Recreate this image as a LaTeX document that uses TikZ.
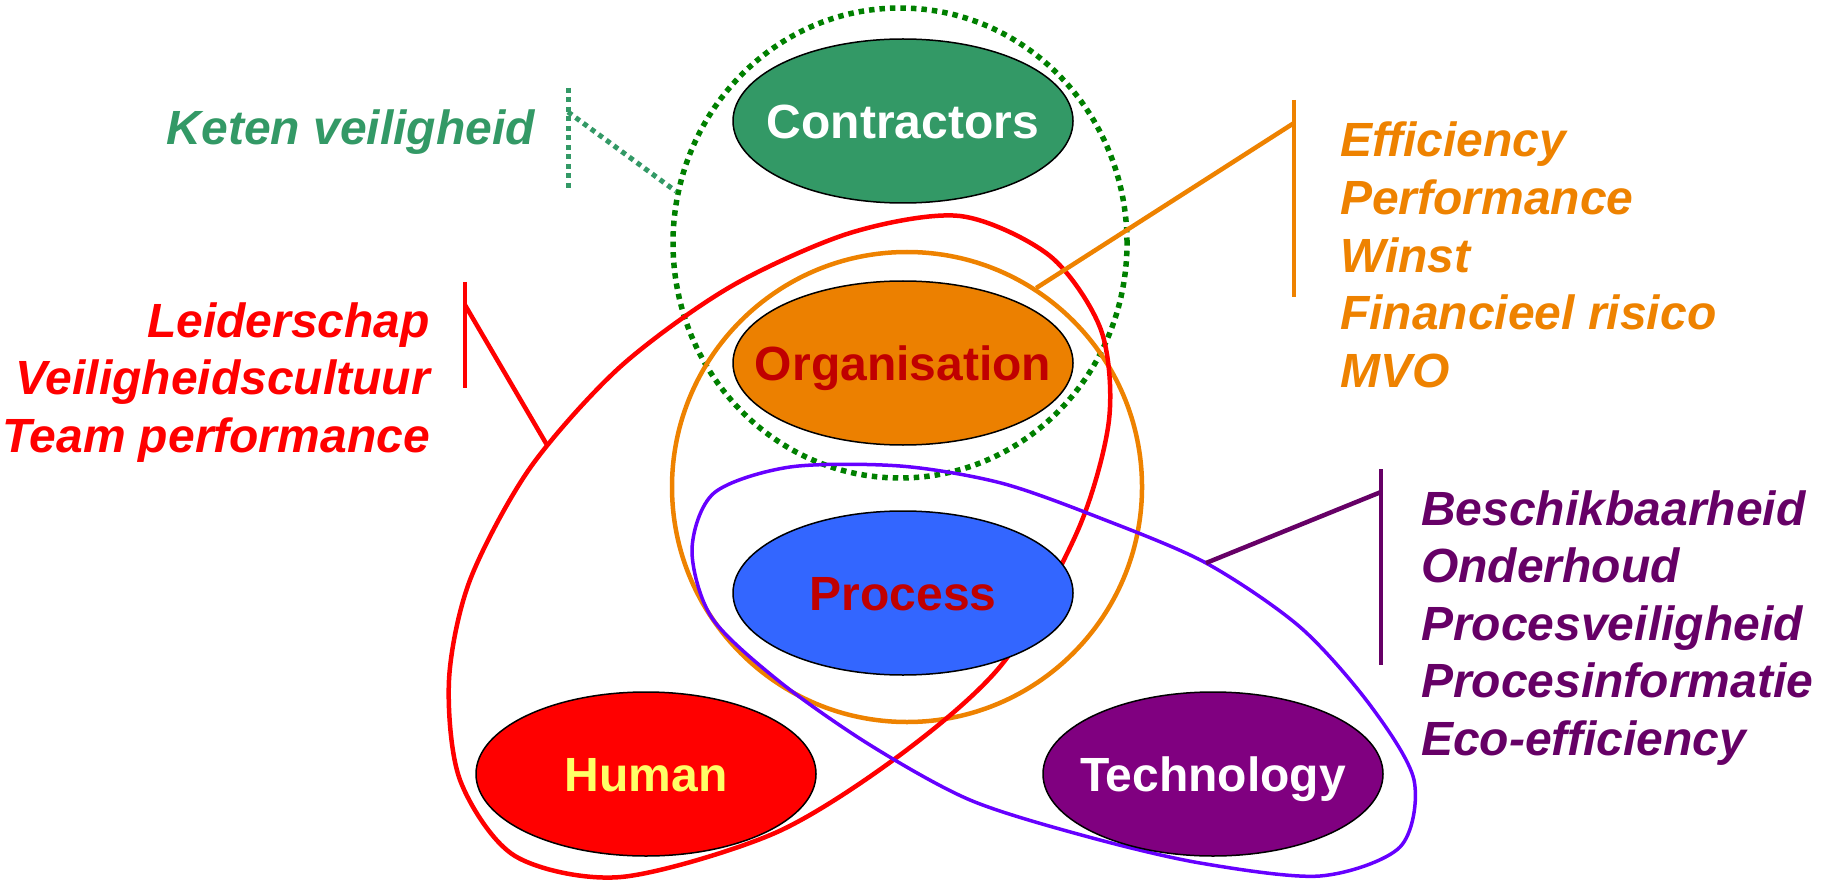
\documentclass[tikz,border=0pt]{standalone}
\usepackage{fontspec}
\setmainfont{Liberation Sans}
\usepackage{tikz}
\usetikzlibrary{shapes, positioning}
\definecolor{contractgreen}{RGB}{51,153,102}
\definecolor{chaingreen}{RGB}{0,128,0}
\definecolor{orgorange}{RGB}{236,128,0}
\definecolor{ringorange}{RGB}{238,130,0}
\definecolor{darkred}{RGB}{192,0,0}
\definecolor{processblue}{RGB}{51,102,255}
\definecolor{humanred}{RGB}{255,0,0}
\definecolor{humanyellow}{RGB}{255,255,102}
\definecolor{techpurple}{RGB}{128,0,128}
\definecolor{listpurple}{RGB}{102,0,102}
\definecolor{loopviolet}{RGB}{102,0,255}
\newcommand{\unitlabel}[1]{\makebox[0pt]{#1}}
\tikzset{
    unit/.style={
        ellipse,
        draw=black,
        line width=1.5pt,
        inner sep=0pt,
        minimum width=340pt,
        minimum height=164pt,
        font=\fontsize{48pt}{58pt}\selectfont\bfseries,
        text height=34.4pt,
        text depth=0pt,
    },
    tag/.style={
        inner sep=0pt,
        font=\fontsize{48pt}{57.5pt}\selectfont\bfseries\itshape,
    },
    bracket/.style={
        line width=4.5pt,
    },
}

\begin{document}
\begin{tikzpicture}[x=1pt, y=-1pt, on grid]
      \useasboundingbox (0,0) rectangle (1827,882);

      % groups round the units
      \node[ellipse, draw=chaingreen, line width=5.5pt, dash pattern=on 5.5pt off 5pt, inner sep=0pt, minimum width=454pt, minimum height=470pt] (chain) at (900,243) {};
      \node[circle, draw=ringorange, line width=4.5pt, inner sep=0pt, minimum size=470pt] (ring) at (907,487) {};
      \draw[humanred, line width=4.5pt] plot[smooth cycle] coordinates {(621,877) (515,856) (460,780) (449,680) (470,580) (530,468) (620,367) (730,287) (850,233) (960,216) (1050,256) (1101,330) (1109,420) (1078,530) (1003,663) (900,755) (775,833)};
      \draw[loopviolet, line width=3.5pt] plot[smooth cycle] coordinates {(692,550) (714,493) (790,467) (900,466) (1001,483) (1100,518) (1206,563) (1300,627) (1370,705) (1414,780) (1400,847) (1320,876) (1200,863) (1085,836) (970,800) (870,745) (780,682) (712,618)};

      \node[unit, fill=contractgreen, text=white] (contractors) at (903,121) {\unitlabel{Contractors}};

      \node[unit, fill=orgorange, text=darkred, below=242pt of contractors] (organisation) {\unitlabel{Organisation}};

      \node[unit, fill=processblue, text=darkred, below=230pt of organisation] (process) {\unitlabel{Process}};

      \node[unit, fill=humanred, text=humanyellow] (human) at (646,774) {\unitlabel{Human}};

      \node[unit, fill=techpurple, text=white] (technology) at (1213,774) {\unitlabel{Technology}};

      % lists, anchored at the baseline of their last line
      \node[tag, text=contractgreen, anchor=base east] (keten) at (535,145) {Keten veiligheid};
      \node[tag, text=humanred, align=right, anchor=base east] (leadership) at (430,452) {Leiderschap\\Veiligheidscultuur\\Team performance};
      \node[tag, text=ringorange, align=left, anchor=base west] (business) at (1340,387) {Efficiency\\Performance\\Winst\\Financieel risico\\MVO};
      \node[tag, text=listpurple, align=left, anchor=base west] (assets) at (1421,755) {Beschikbaarheid\\Onderhoud\\Procesveiligheid\\Procesinformatie\\Eco-efficiency};

      \coordinate (ketentop) at (568,88);
      \coordinate (ketenbot) at (568,190);
      \coordinate (ketenjoin) at (568,112);
      \coordinate (leadtop) at (465,282);
      \coordinate (leadbot) at (465,388);
      \coordinate (leadjoin) at (465,305);
      \coordinate (leadtip) at (547,445);
      \coordinate (busitop) at (1294,100);
      \coordinate (busibot) at (1294,297);
      \coordinate (busijoin) at (1294,123);
      \coordinate (assettop) at (1381,469);
      \coordinate (assetbot) at (1381,665);
      \coordinate (assetjoin) at (1381,492);
      \coordinate (assettip) at (1206,563);

      \draw[contractgreen, line width=5pt, dash pattern=on 5pt off 4.5pt] (ketentop) -- (ketenbot);
      \draw[contractgreen, line width=5pt, dash pattern=on 5pt off 4.5pt] (ketenjoin) -- (chain.167);
      \draw[bracket, humanred] (leadtop) -- (leadbot);
      \draw[bracket, humanred] (leadjoin) -- (leadtip);
      \draw[bracket, ringorange] (busitop) -- (busibot);
      \draw[bracket, ringorange] (busijoin) -- (ring.57);
      \draw[bracket, listpurple] (assettop) -- (assetbot);
      \draw[bracket, listpurple] (assetjoin) -- (assettip);

    \end{tikzpicture}
\end{document}
